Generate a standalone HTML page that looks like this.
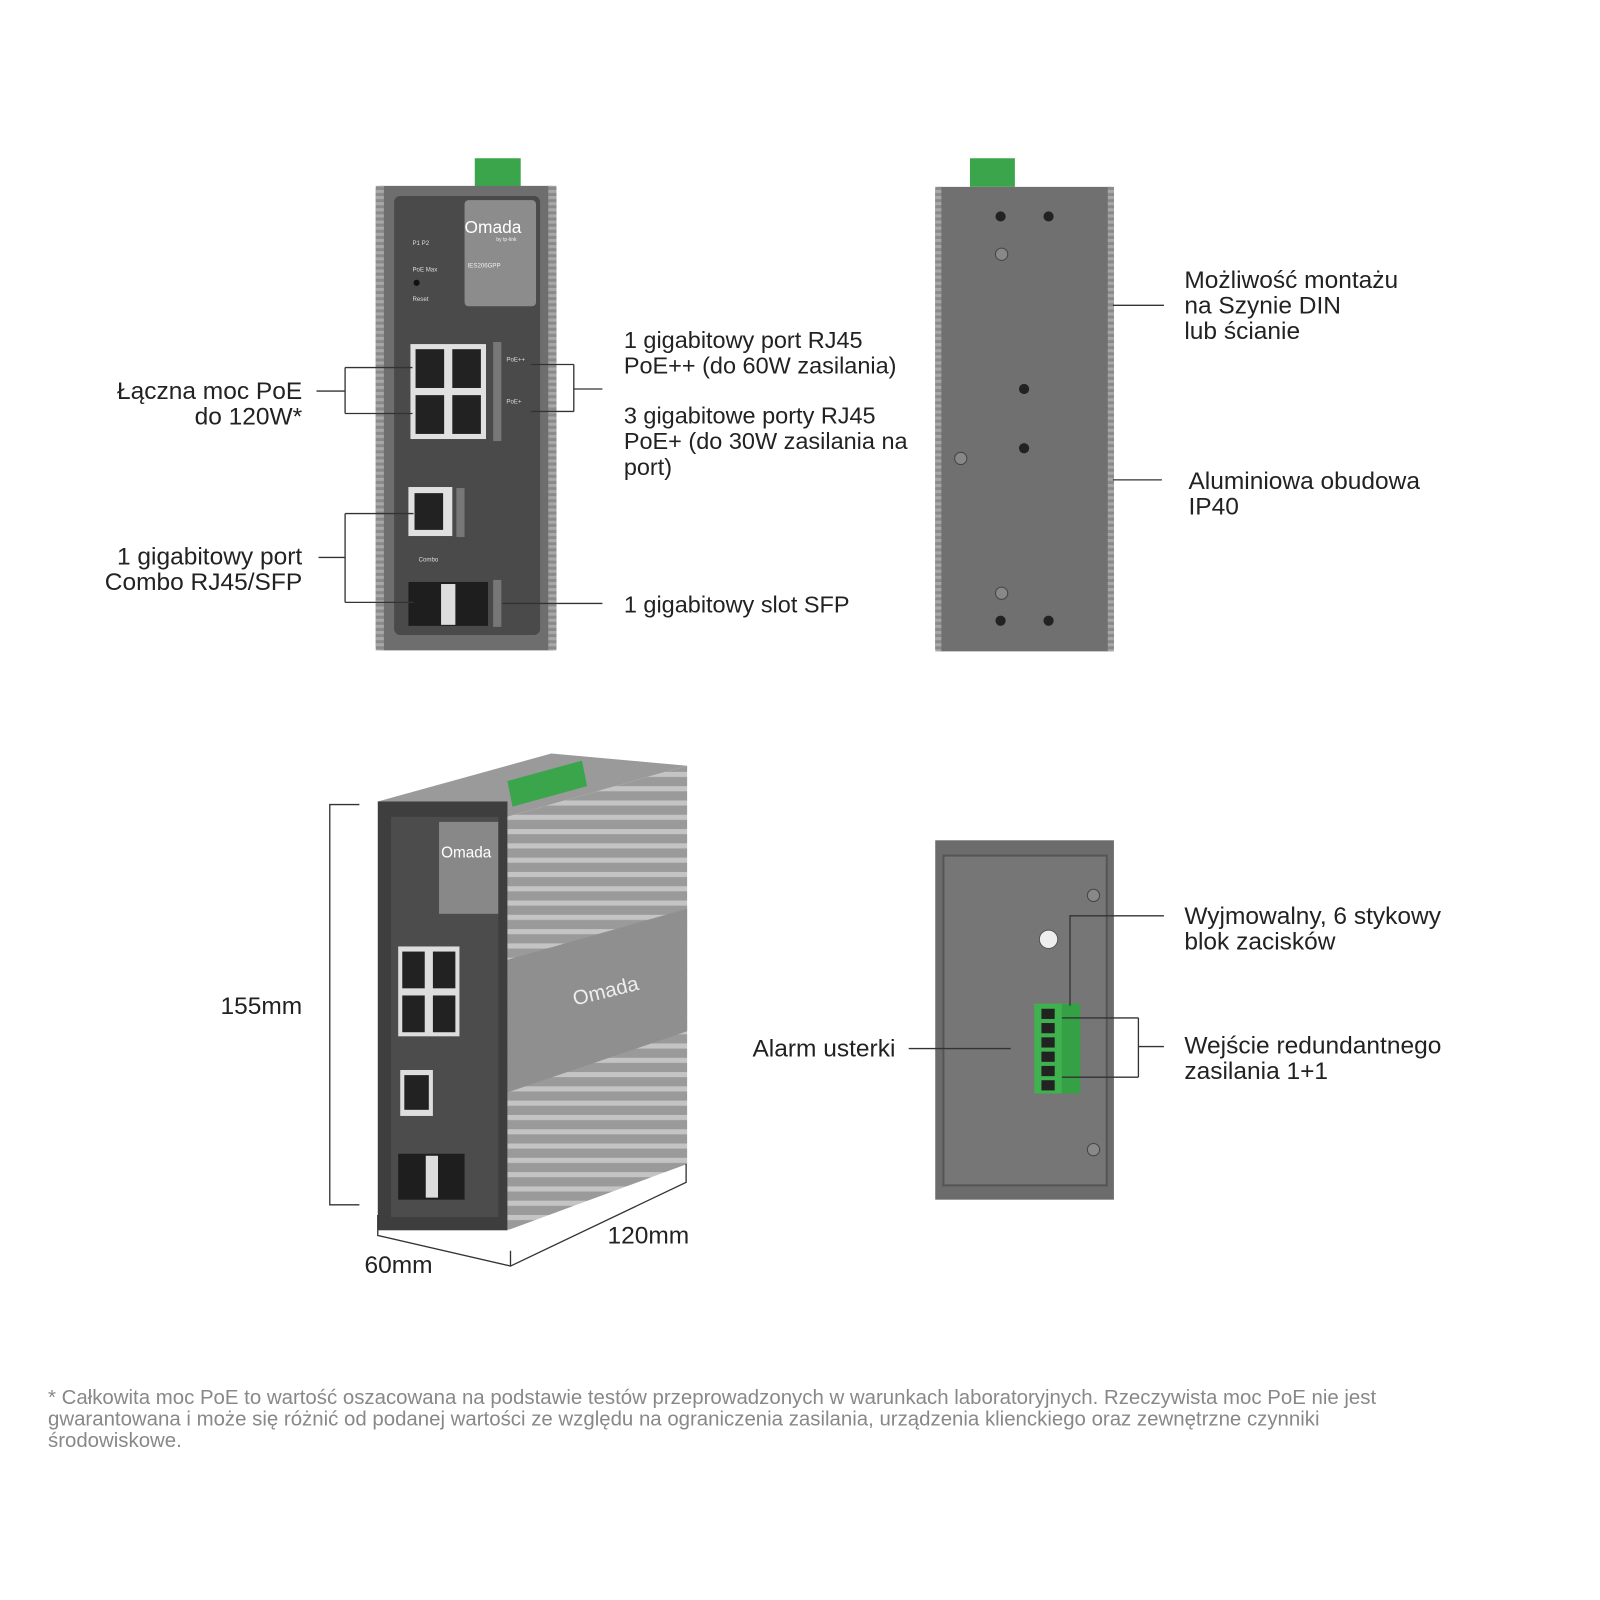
<!DOCTYPE html>
<html><head><meta charset="utf-8"><style>
body{margin:0;background:#fff;}
svg{display:block}
text{font-family:"Liberation Sans",sans-serif;fill:#222;}
</style></head><body>
<svg width="1600" height="1600" viewBox="0 0 1600 1600" xmlns="http://www.w3.org/2000/svg">
<defs>
<pattern id="fins" width="6" height="6" patternUnits="userSpaceOnUse"><rect width="6" height="6" fill="#8a8a8a"/><rect y="0" width="6" height="3" fill="#a8a8a8"/></pattern>
<pattern id="sidefins" width="10" height="14" patternUnits="userSpaceOnUse"><rect width="10" height="14" fill="#9a9a9a"/><rect width="10" height="5" fill="#c4c4c4"/></pattern>
</defs>
<g transform="scale(1.021)">
<!-- TOP LEFT DEVICE -->
<rect x="465" y="155" width="45" height="28" fill="#3aa54a"/>
<rect x="368" y="182" width="177" height="455" rx="4" fill="#6e6e6e"/>
<rect x="368" y="182" width="8" height="455" fill="url(#fins)"/>
<rect x="537" y="182" width="8" height="455" fill="url(#fins)"/>
<rect x="386" y="192" width="143" height="430" rx="6" fill="#4a4a4a"/>
<rect x="455" y="196" width="70" height="104" rx="4" fill="#8c8c8c"/>
<text x="455" y="228" font-size="17" style="fill:#fff">Omada</text>
<text x="486" y="236" font-size="5" style="fill:#eee">by tp-link</text>
<text x="458" y="262" font-size="6" style="fill:#eee">IES206GPP</text>
<text x="404" y="240" font-size="6" style="fill:#ddd">P1  P2</text>
<text x="404" y="266" font-size="6" style="fill:#ddd">PoE Max</text>
<circle cx="408" cy="277" r="3" fill="#111"/>
<text x="404" y="295" font-size="6" style="fill:#ddd">Reset</text>
<rect x="402" y="337" width="74" height="93" fill="#e0e0e0"/>
<rect x="407" y="342" width="28" height="38" fill="#222"/><rect x="443" y="342" width="28" height="38" fill="#222"/>
<rect x="407" y="387" width="28" height="38" fill="#222"/><rect x="443" y="387" width="28" height="38" fill="#222"/>
<rect x="483" y="335" width="8" height="97" fill="#777"/>
<text x="496" y="354" font-size="6" style="fill:#ddd">PoE++</text>
<text x="496" y="395" font-size="6" style="fill:#ddd">PoE+</text>
<rect x="400" y="477" width="43" height="48" fill="#e0e0e0"/>
<rect x="406" y="483" width="28" height="36" fill="#222"/>
<rect x="447" y="478" width="8" height="48" fill="#777"/>
<text x="410" y="550" font-size="6" style="fill:#ddd">Combo</text>
<rect x="400" y="570" width="78" height="43" fill="#1e1e1e"/>
<rect x="432" y="572" width="14" height="40" fill="#ddd"/>
<rect x="483" y="568" width="8" height="46" fill="#777"/>

<!-- TOP RIGHT DEVICE -->
<rect x="950" y="155" width="44" height="28" fill="#3aa54a"/>
<rect x="916" y="183" width="175" height="455" rx="3" fill="#707070"/>
<rect x="916" y="183" width="6" height="455" fill="url(#fins)"/>
<rect x="1085" y="183" width="6" height="455" fill="url(#fins)"/>
<circle cx="980" cy="212" r="5" fill="#222"/><circle cx="1027" cy="212" r="5" fill="#222"/>
<circle cx="981" cy="249" r="6" fill="#888" stroke="#444"/>
<circle cx="1003" cy="381" r="5" fill="#222"/><circle cx="1003" cy="439" r="5" fill="#222"/>
<circle cx="941" cy="449" r="6" fill="#888" stroke="#444"/>
<circle cx="981" cy="581" r="6" fill="#888" stroke="#444"/>
<circle cx="980" cy="608" r="5" fill="#222"/><circle cx="1027" cy="608" r="5" fill="#222"/>

<!-- 3D DEVICE -->
<polygon points="370,785 540,738 673,750 497,800" fill="#9a9a9a"/>
<polygon points="497,800 673,750 673,1140 497,1205" fill="url(#sidefins)"/>
<polygon points="497,940 673,890 673,1010 497,1070" fill="#8f8f8f"/>
<text x="563" y="985" font-size="20" transform="rotate(-14 563 985)" style="fill:#eee">Omada</text>
<polygon points="497,765 570,745 575,770 502,790" fill="#3aa54a"/>
<rect x="370" y="785" width="127" height="420" fill="#3e3e3e"/>
<rect x="383" y="800" width="105" height="392" fill="#4c4c4c"/>
<rect x="430" y="805" width="58" height="90" fill="#888"/>
<text x="432" y="840" font-size="15" style="fill:#fff">Omada</text>
<rect x="390" y="927" width="60" height="88" fill="#ddd"/>
<rect x="394" y="932" width="22" height="36" fill="#222"/><rect x="424" y="932" width="22" height="36" fill="#222"/>
<rect x="394" y="975" width="22" height="36" fill="#222"/><rect x="424" y="975" width="22" height="36" fill="#222"/>
<rect x="392" y="1048" width="32" height="45" fill="#ddd"/><rect x="396" y="1053" width="24" height="34" fill="#222"/>
<rect x="390" y="1130" width="65" height="45" fill="#1e1e1e"/><rect x="417" y="1132" width="12" height="41" fill="#ddd"/>

<!-- BOTTOM RIGHT DEVICE -->
<rect x="916" y="823" width="175" height="352" fill="#6c6c6c"/>
<rect x="924" y="838" width="160" height="323" fill="#767676" stroke="#555" stroke-width="2"/>
<circle cx="1071" cy="877" r="6" fill="#888" stroke="#444"/>
<circle cx="1027" cy="920" r="9" fill="#eee" stroke="#555"/>
<circle cx="1071" cy="1126" r="6" fill="#888" stroke="#444"/>
<rect x="1013" y="983" width="45" height="88" fill="#3fb24f"/>
<rect x="1040" y="983" width="18" height="88" fill="#35a045"/>
<g fill="#222"><rect x="1020" y="988" width="13" height="10"/><rect x="1020" y="1002" width="13" height="10"/><rect x="1020" y="1016" width="13" height="10"/><rect x="1020" y="1030" width="13" height="10"/><rect x="1020" y="1044" width="13" height="10"/><rect x="1020" y="1058" width="13" height="10"/></g>

<!-- CONNECTOR LINES -->
<g stroke="#333" stroke-width="1.3" fill="none">
<path d="M310 383H338M338 360V405M338 360H404M338 405H404"/>
<path d="M520 357H562M520 403H562M562 357V403M562 381H590"/>
<path d="M312 546H338M338 503V590M338 503H405M338 590H405"/>
<path d="M492 591H590"/>
<path d="M1090 299H1140M1090 470H1138"/>
<path d="M890 1027H990"/>
<path d="M1048 985V897H1140"/>
<path d="M1040 997H1115M1040 1055H1115M1115 997V1055M1115 1025H1140"/>
<path d="M352 788H323V1180H352"/>
<path d="M370 1190V1210L500 1240L672 1158V1140M500 1225V1240"/>
</g>

<!-- LABELS -->
<g font-size="24">
<text x="296" y="391" text-anchor="end">Łączna moc PoE</text>
<text x="296" y="416" text-anchor="end">do 120W*</text>
<g font-size="23">
<text x="611" y="341">1 gigabitowy port RJ45</text>
<text x="611" y="366">PoE++ (do 60W zasilania)</text>
<text x="611" y="415">3 gigabitowe porty RJ45</text>
<text x="611" y="440">PoE+ (do 30W zasilania na</text>
<text x="611" y="465">port)</text>
<text x="611" y="600">1 gigabitowy slot SFP</text>
</g>
<text x="296" y="553" text-anchor="end">1 gigabitowy port</text>
<text x="296" y="578" text-anchor="end">Combo RJ45/SFP</text>
<text x="1160" y="282">Możliwość montażu</text>
<text x="1160" y="307">na Szynie DIN</text>
<text x="1160" y="332">lub ścianie</text>
<text x="1164" y="479">Aluminiowa obudowa</text>
<text x="1164" y="504">IP40</text>
<text x="296" y="993" text-anchor="end">155mm</text>
<text x="357" y="1247">60mm</text>
<text x="595" y="1218">120mm</text>
<text x="877" y="1035" text-anchor="end">Alarm usterki</text>
<text x="1160" y="905">Wyjmowalny, 6 stykowy</text>
<text x="1160" y="930">blok zacisków</text>
<text x="1160" y="1032">Wejście redundantnego</text>
<text x="1160" y="1057">zasilania 1+1</text>
</g>
<g font-size="20">
<text x="47" y="1375" style="fill:#888">* Całkowita moc PoE to wartość oszacowana na podstawie testów przeprowadzonych w warunkach laboratoryjnych. Rzeczywista moc PoE nie jest</text>
<text x="47" y="1396" style="fill:#888">gwarantowana i może się różnić od podanej wartości ze względu na ograniczenia zasilania, urządzenia klienckiego oraz zewnętrzne czynniki</text>
<text x="47" y="1417" style="fill:#888">środowiskowe.</text>
</g>
</g>
</svg>
</body></html>
